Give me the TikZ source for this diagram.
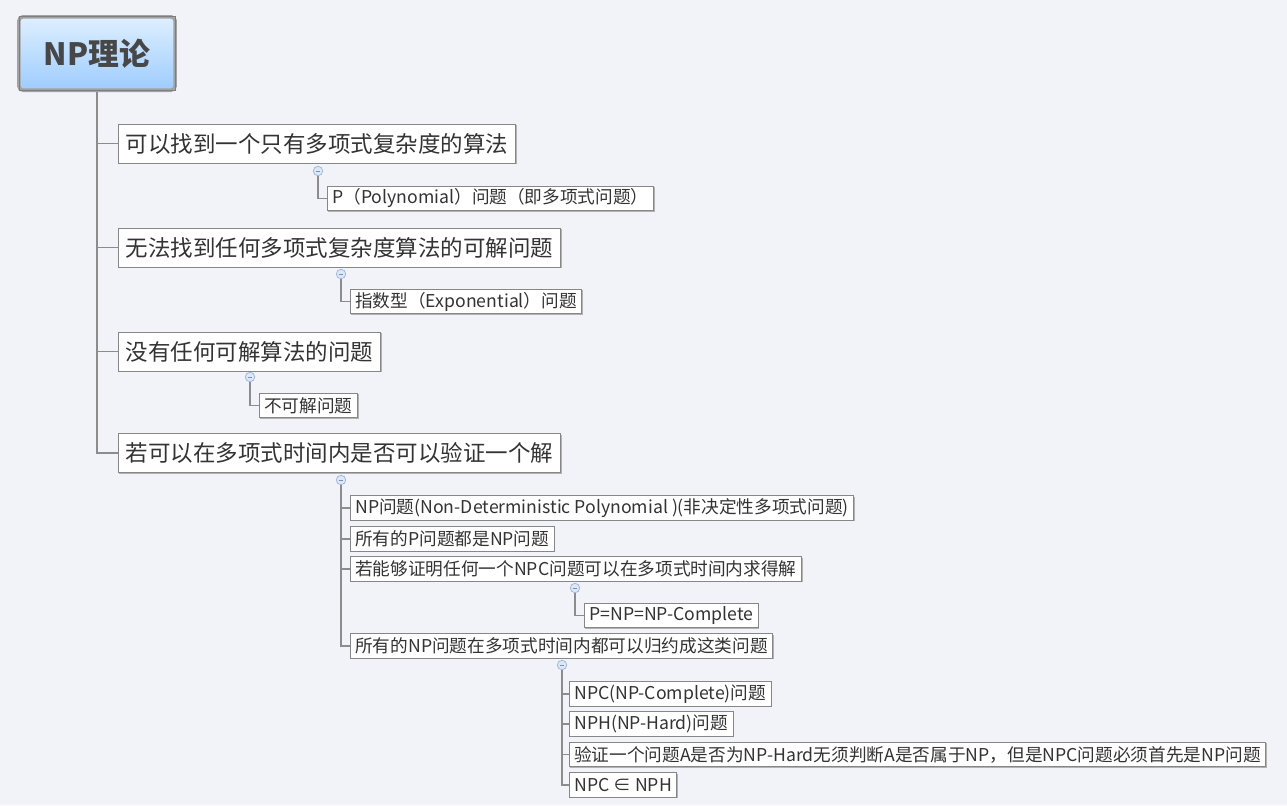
\documentclass[tikz,border=0pt]{standalone}
\usepackage{fontspec}
\setmainfont{Noto Sans CJK SC}
\usetikzlibrary{shadows}

\definecolor{bgcol}{HTML}{F2F3F8}
\definecolor{linecol}{HTML}{8C8C8C}
\definecolor{boxline}{HTML}{878787}
\definecolor{textcol}{HTML}{333333}
\definecolor{rootline}{HTML}{A2A2A2}
\definecolor{rootinner}{HTML}{7E7E7E}
\definecolor{roottop}{HTML}{DEEFFF}
\definecolor{rootbot}{HTML}{9DCCFF}
\definecolor{knobfill}{HTML}{DCE7F7}
\definecolor{knobline}{HTML}{9BB4DC}

\tikzset{
  thema/.style={draw=rootline, line width=2pt, rounded corners=2.5pt,
    top color=roottop, bottom color=rootbot, minimum width=3.13cm,
    minimum height=1.47cm, text=textcol!90,
    font=\fontsize{17.5}{20}\selectfont\bfseries},
  kasten/.style={draw=boxline, fill=white!97!bgcol, text=textcol, anchor=west,
    drop shadow={shadow xshift=0.6pt, shadow yshift=-0.6pt, fill=black!30, opacity=1}},
  ast/.style={kasten, font=\fontsize{12.8}{15}\selectfont, inner xsep=4.3pt,
    minimum height=0.78cm},
  blatt/.style={kasten, font=\fontsize{10.05}{12}\selectfont, inner xsep=2.8pt,
    inner ysep=1pt, minimum height=0.49cm},
  knopf/.style={circle, draw=knobline, fill=knobfill, minimum size=0.19cm,
    inner sep=0pt, line width=0.4pt,
    path picture={\draw[knobline!80!black, line width=0.4pt]
      ([xshift=-1.3pt]path picture bounding box.center) --
      ([xshift=1.3pt]path picture bounding box.center);}},
  kante/.style={draw=linecol, line width=0.6pt}
}

\begin{document}
\begin{tikzpicture}[x=0.02cm, y=-0.02cm]
  % Hintergrund
  \fill[bgcol] (0,0) rectangle (1287,805);
  \useasboundingbox (0,0) rectangle (1287,805);
  % Thema
  \node[thema] (root) at (97,53.5) {NP理论};
  \draw[rootinner, line width=0.5pt]
    ([shift={(1.1pt,-1.1pt)}]root.north west) rectangle ([shift={(-1.1pt,1.1pt)}]root.south east);
  % Hauptaeste
  \node[ast] (a1) at (118,143.5) {可以找到一个只有多项式复杂度的算法};
  \node[ast] (a2) at (118,247.5) {无法找到任何多项式复杂度算法的可解问题};
  \node[ast] (a3) at (118,351.5) {没有任何可解算法的问题};
  \node[ast] (a4) at (118,453) {若可以在多项式时间内是否可以验证一个解};
  \foreach \a in {a1,a2,a3,a4}
    \draw[kante] (root.south) |- (\a.west);
  % Knoepfe
  \node[knopf] (k1) at (318,171) {};
  \node[knopf] (k2) at (341,274) {};
  \node[knopf] (k3) at (250,377) {};
  \node[knopf] (k4) at (341,480) {};
  % Unteraeste
  \node[blatt] (b1) at (327,198.5) {P（Polynomial）问题（即多项式问题）};
  \node[blatt] (b2) at (350,301.5) {指数型（Exponential）问题};
  \node[blatt] (b3) at (259,405.5) {不可解问题};
  \draw[kante] (k1) |- (b1.west);
  \draw[kante] (k2) |- (b2.west);
  \draw[kante] (k3) |- (b3.west);
  \node[blatt] (c1) at (350,508) {NP问题(Non-Deterministic Polynomial )(非决定性多项式问题)};
  \node[blatt] (c2) at (350,539) {所有的P问题都是NP问题};
  \node[blatt] (c3) at (350,569) {若能够证明任何一个NPC问题可以在多项式时间内求得解};
  \node[blatt] (c4) at (350,646) {所有的NP问题在多项式时间内都可以归约成这类问题};
  \foreach \c in {c1,c2,c3,c4}
    \draw[kante] (k4) |- (\c.west);
  % P=NP
  \node[knopf] (k5) at (575,588) {};
  \node[blatt] (d1) at (584,615.5) {P=NP=NP-Complete};
  \draw[kante] (k5) |- (d1.west);
  % NPC, NPH
  \node[knopf] (k6) at (562,665) {};
  \node[blatt] (e1) at (569,694) {NPC(NP-Complete)问题};
  \node[blatt] (e2) at (569,724) {NPH(NP-Hard)问题};
  \node[blatt] (e3) at (569,754.5) {验证一个问题A是否为NP-Hard无须判断A是否属于NP，但是NPC问题必须首先是NP问题};
  \node[blatt] (e4) at (569,785) {NPC ∈ NPH};
  \foreach \e in {e1,e2,e3,e4}
    \draw[kante] (k6) |- (\e.west);
\end{tikzpicture}
\end{document}
